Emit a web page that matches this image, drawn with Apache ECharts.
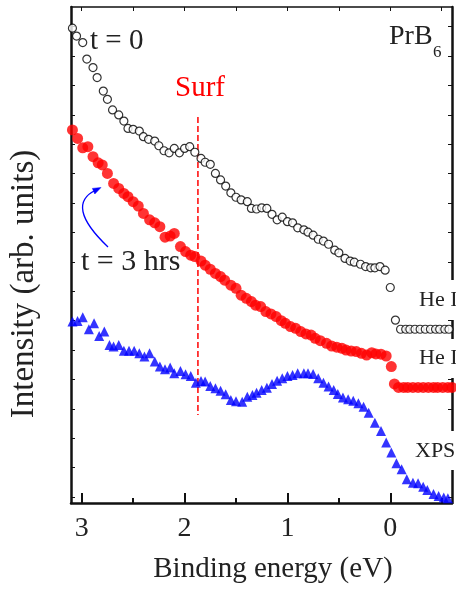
<!DOCTYPE html>
<html>
<head>
<meta charset="utf-8">
<script src="https://cdn.jsdelivr.net/npm/echarts@6/dist/echarts.min.js"></script>
<style>
html,body{margin:0;padding:0;background:#fff;}
#c{width:456px;height:596px;}
</style>
</head>
<body>
<div id="c"></div>
<script>
// Binding energy (eV) and intensity (arb. units)
var heIx = [3.09,3.05,2.99,2.95,2.89,2.85,2.79,2.75,2.70,2.64,2.59,2.55,2.50,2.44,2.40,2.35,2.29,2.25,2.20,2.15,2.10,2.05,2.00,1.95,1.90,1.84,1.80,1.75,1.70,1.65,1.60,1.55,1.50,1.45,1.39,1.35,1.30,1.25,1.20,1.15,1.10,1.05,1.00,0.95,0.90,0.84,0.80,0.75,0.70,0.65,0.60,0.54,0.50,0.44,0.39,0.35,0.29,0.24,0.19,0.15,0.10,0.05,0.00,-0.05,-0.10,-0.15,-0.19,-0.24,-0.29,-0.34,-0.39,-0.44,-0.48,-0.53,-0.57];
var heIy = [15.95,15.68,15.46,14.90,14.61,14.27,13.81,13.53,13.17,13.00,12.79,12.54,12.51,12.45,12.26,12.17,12.11,11.95,11.78,11.71,11.86,11.71,11.86,11.92,11.73,11.52,11.39,11.32,11.01,10.79,10.58,10.35,10.20,10.11,10.05,9.82,9.80,9.84,9.82,9.62,9.43,9.52,9.37,9.33,9.16,9.09,9.01,8.91,8.77,8.71,8.60,8.40,8.31,8.12,8.03,7.99,7.92,7.84,7.80,7.80,7.84,7.72,7.13,6.02,5.71,5.71,5.71,5.71,5.71,5.71,5.71,5.71,5.71,5.71,5.71];

var heIIx = [3.09,3.04,2.99,2.94,2.89,2.84,2.80,2.75,2.69,2.64,2.59,2.55,2.50,2.45,2.40,2.34,2.29,2.24,2.19,2.14,2.10,2.04,1.99,1.94,1.90,1.84,1.80,1.75,1.70,1.65,1.61,1.55,1.50,1.45,1.40,1.35,1.31,1.26,1.21,1.16,1.11,1.06,1.02,0.97,0.92,0.87,0.82,0.77,0.73,0.68,0.62,0.57,0.52,0.47,0.43,0.38,0.33,0.28,0.23,0.18,0.14,0.09,0.04,-0.01,-0.04,-0.08,-0.13,-0.17,-0.22,-0.27,-0.32,-0.37,-0.42,-0.46,-0.51,-0.56,-0.60];
var heIIy = [12.49,12.20,11.88,11.92,11.58,11.37,11.30,11.01,10.67,10.50,10.33,10.22,10.05,9.90,9.65,9.43,9.33,9.20,8.84,8.88,8.97,8.52,8.35,8.23,8.18,8.03,7.89,7.75,7.61,7.50,7.38,7.21,7.10,6.87,6.76,6.65,6.53,6.48,6.31,6.23,6.14,6.00,5.91,5.80,5.74,5.63,5.55,5.51,5.40,5.32,5.23,5.14,5.10,5.06,5.00,4.97,4.95,4.89,4.83,4.91,4.87,4.86,4.80,4.44,3.85,3.73,3.73,3.73,3.73,3.73,3.73,3.73,3.73,3.73,3.73,3.73,3.73];

var xpsX = [3.09,3.04,2.99,2.93,2.88,2.83,2.78,2.73,2.69,2.64,2.59,2.54,2.49,2.44,2.39,2.34,2.29,2.24,2.19,2.14,2.10,2.04,1.99,1.94,1.89,1.84,1.80,1.75,1.70,1.65,1.60,1.55,1.50,1.44,1.39,1.34,1.30,1.25,1.20,1.15,1.10,1.05,1.00,0.95,0.90,0.84,0.80,0.75,0.70,0.65,0.60,0.55,0.51,0.46,0.41,0.36,0.31,0.26,0.21,0.15,0.09,0.04,-0.01,-0.06,-0.11,-0.16,-0.22,-0.27,-0.32,-0.36,-0.42,-0.47,-0.52,-0.56];
var xpsY = [5.97,5.99,6.12,5.71,5.91,5.48,5.63,5.17,5.12,5.17,4.98,4.98,4.98,4.89,4.78,4.89,4.61,4.44,4.35,4.41,4.21,4.29,4.18,4.12,3.89,3.95,3.93,3.78,3.70,3.62,3.50,3.30,3.26,3.24,3.41,3.47,3.55,3.64,3.72,3.85,3.96,4.04,4.12,4.15,4.21,4.21,4.21,4.19,4.04,3.89,3.76,3.64,3.51,3.39,3.33,3.28,3.19,3.07,2.87,2.53,2.25,1.86,1.52,1.15,0.95,0.61,0.49,0.47,0.35,0.24,0.11,0.04,-0.01,-0.04];

// "Surf" marker line
var surfX = [1.87, 1.87];
var surfY = [12.93, 2.79];

// axis ticks
var xMajorTicks = [0, 1, 2, 3];
var xMinorTicks = [-0.5, 0.5, 1.5, 2.5];
var xTopTicks = [-0.5, 0, 0.5, 1, 1.5, 2, 2.5, 3];
var yTicks = [0,1,2,3,4,5,6,7,8,9,10,11,12,13,14,15,16];

function zip(a, b) { return a.map(function (v, i) { return [v, b[i]]; }); }

var SERIF = '"Liberation Serif", "DejaVu Serif", serif';
var chart = echarts.init(document.getElementById('c'));
var xMin = -0.6, xMax = 3.104, yMin = -0.2, yMax = 16.67;

chart.setOption({
  animation: false,
  backgroundColor: '#fff',
  grid: { left: 69, right: 4, top: 7, bottom: 93 },
  xAxis: [
    {
      type: 'value', position: 'bottom', inverse: true, min: xMin, max: xMax,
      axisLine: { onZero: false, lineStyle: { color: '#111', width: 2.5 } },
      axisTick: { inside: true, length: 10, customValues: xMajorTicks, lineStyle: { color: '#111', width: 2 } },
      axisLabel: { customValues: xMajorTicks, fontSize: 28, fontFamily: SERIF, color: '#222', margin: 12,
        formatter: function (v) { return String(Math.round(v)); } },
      splitLine: { show: false },
      name: 'Binding energy (eV)', nameLocation: 'middle', nameGap: 52,
      nameTextStyle: { fontSize: 29, fontFamily: SERIF, color: '#222', padding: [0, 0, 0, 23] }
    },
    {
      type: 'value', position: 'bottom', inverse: true, min: xMin, max: xMax,
      axisLine: { show: false, onZero: false },
      axisTick: { inside: true, length: 5, customValues: xMinorTicks, lineStyle: { color: '#111', width: 2 } },
      axisLabel: { show: false }, splitLine: { show: false }
    },
    {
      type: 'value', position: 'top', inverse: true, min: xMin, max: xMax,
      axisLine: { onZero: false, lineStyle: { color: '#111', width: 1.5 } },
      axisTick: { inside: true, length: 4, customValues: xTopTicks, lineStyle: { color: '#111', width: 1 } },
      axisLabel: { show: false }, splitLine: { show: false }
    }
  ],
  yAxis: [
    {
      type: 'value', position: 'left', min: yMin, max: yMax,
      axisLine: { show: true, onZero: false, lineStyle: { color: '#111', width: 2.5 } },
      axisTick: { show: true, inside: true, length: 4, customValues: yTicks, lineStyle: { color: '#111', width: 1 } },
      axisLabel: { show: false }, splitLine: { show: false },
      name: 'Intensity (arb. units)', nameLocation: 'middle', nameGap: 30, nameRotate: 90,
      nameTextStyle: { fontSize: 33, fontFamily: SERIF, color: '#222', padding: [0, 58, 0, 0] }
    },
    {
      type: 'value', position: 'right', min: yMin, max: yMax,
      axisLine: { show: true, onZero: false, lineStyle: { color: '#111', width: 2.5 } },
      axisTick: { show: true, inside: true, length: 4, customValues: yTicks, lineStyle: { color: '#111', width: 1 } },
      axisLabel: { show: false }, splitLine: { show: false }
    }
  ],
  series: [
    {
      name: 'Surf', type: 'line', data: zip(surfX, surfY), symbol: 'none', silent: true,
      lineStyle: { color: '#ff0000', width: 1.5, type: [6, 3] }, z: 1
    },
    {
      name: 'XPS', type: 'scatter', data: zip(xpsX, xpsY), symbol: 'triangle', symbolSize: 10,
      itemStyle: { color: '#0000ff' }, z: 2
    },
    {
      name: 'He II (t = 3 hrs)', type: 'scatter', data: zip(heIIx, heIIy), symbol: 'circle', symbolSize: 11,
      itemStyle: { color: '#ff0000' }, z: 3
    },
    {
      name: 'He I (t = 0)', type: 'scatter', data: zip(heIx, heIy), symbol: 'circle', symbolSize: 8,
      itemStyle: { color: '#ffffff', borderColor: '#000000', borderWidth: 1.2 }, z: 4
    }
  ],
  graphic: [
    { type: 'rect', z: 100, shape: { x: 436, y: 280, width: 20, height: 40 }, style: { fill: '#fff' } },
    { type: 'rect', z: 100, shape: { x: 436, y: 339, width: 20, height: 39 }, style: { fill: '#fff' } },
    { type: 'rect', z: 100, shape: { x: 436, y: 431, width: 20, height: 39 }, style: { fill: '#fff' } },
    { type: 'text', z: 101, x: 419, y: 300, style: { text: 'He I', font: '22px ' + SERIF, fill: '#222', verticalAlign: 'middle' } },
    { type: 'text', z: 101, x: 419, y: 358, style: { text: 'He II', font: '22px ' + SERIF, fill: '#222', verticalAlign: 'middle' } },
    { type: 'text', z: 101, x: 415, y: 451, style: { text: 'XPS', font: '22px ' + SERIF, fill: '#222', verticalAlign: 'middle' } },
    { type: 'text', z: 101, x: 90, y: 41, style: { text: 't = 0', font: '29px ' + SERIF, fill: '#222', verticalAlign: 'middle' } },
    { type: 'text', z: 101, x: 175, y: 88, style: { text: 'Surf', font: '29px ' + SERIF, fill: '#ff0000', verticalAlign: 'middle' } },
    { type: 'text', z: 101, x: 81, y: 262, style: { text: 't = 3 hrs', font: '30px ' + SERIF, fill: '#222', verticalAlign: 'middle' } },
    { type: 'text', z: 101, x: 389, y: 37, style: { text: 'PrB', font: '28px ' + SERIF, fill: '#222', verticalAlign: 'middle' } },
    { type: 'text', z: 101, x: 433, y: 53, style: { text: '6', font: '17px ' + SERIF, fill: '#222', verticalAlign: 'middle' } },
    { type: 'bezierCurve', z: 101, shape: { x1: 108, y1: 247, x2: 96, y2: 190, cpx1: 64, cpy1: 205 },
      style: { stroke: '#0000ff', lineWidth: 1.3, fill: null } },
    { type: 'polygon', z: 101, shape: { points: [[101, 187.5], [94.8, 194], [92.4, 188.4]] },
      style: { fill: '#0000ff', stroke: '#0000ff', lineWidth: 0.5 } }
  ]
});
</script>
</body>
</html>
